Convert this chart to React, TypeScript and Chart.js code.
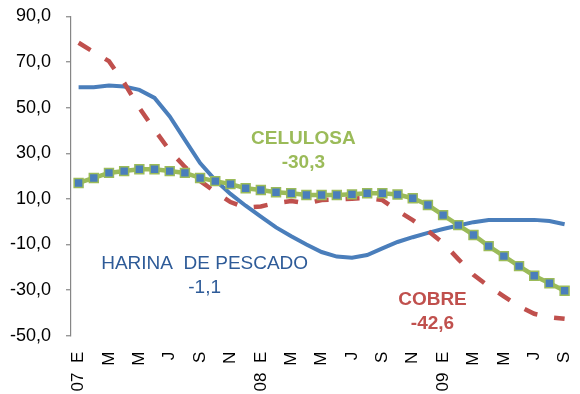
import { useEffect, useRef } from "react";
import { Chart, registerables } from "chart.js";

Chart.register(...registerables);

// Monthly categories, Jan 2007 – Sep 2009 (only every other month is labelled)
const months = [
  "07  E", "F", "M", "A", "M", "J", "J", "A", "S", "O", "N", "D",
  "08  E", "F", "M", "A", "M", "J", "J", "A", "S", "O", "N", "D",
  "09  E", "F", "M", "A", "M", "J", "J", "A", "S",
];

// Year-on-year change, %
const harinaDePescado = [
  59.0, 59.0, 59.7, 59.3, 57.8, 54.3, 46.2, 35.9, 25.7, 18.3, 12.2, 7.0,
  2.2, -2.5, -6.4, -10.0, -13.3, -15.3, -15.8, -14.6, -11.7, -8.9, -6.8, -4.9,
  -3.2, -1.7, -0.2, 0.7, 0.8, 0.8, 0.8, 0.3, -1.1,
];

const cobre = [
  78.5, 74.4, 70.4, 60.9, 49.9, 40.3, 31.2, 24.0, 17.9, 13.1, 8.6, 6.1,
  6.7, 8.2, 9.1, 8.0, 9.5, 9.8, 10.1, 10.4, 9.5, 4.8, 0.7, -4.0,
  -9.3, -16.4, -23.3, -28.3, -32.7, -37.1, -40.4, -41.9, -42.6,
];

const celulosa = [
  17.0, 19.2, 21.4, 22.2, 23.0, 23.0, 22.2, 21.4, 19.2, 17.8, 16.5, 14.7,
  13.9, 12.9, 12.5, 11.7, 11.7, 11.7, 12.0, 12.5, 12.5, 11.9, 10.3, 7.3,
  2.9, -1.5, -5.8, -10.7, -15.1, -19.5, -23.7, -27.0, -30.3,
];

const yMin = -50;
const yMax = 90;
const yStep = 20;

const BLUE = "#4A7EBB";
const RED = "#C0504D";
const GREEN = "#9BBB59";
const NOTE_BLUE = "#2E5B98";
const FONT = '"Liberation Sans", Arial, Helvetica, sans-serif';

// Series captions, anchored in data units (category index, value)
const seriesNotes = [
  { lines: ["CELULOSA", "-30,3"], at: [14.8, 36.3], color: GREEN, bold: true },
  { lines: ["HARINA  DE PESCADO", "-1,1"], at: [8.3, -18.6], color: NOTE_BLUE, bold: false },
  { lines: ["COBRE", "-42,6"], at: [23.3, -34.3], color: RED, bold: true },
];

const notesPlugin = {
  id: "seriesNotes",
  afterDatasetsDraw(chart: any) {
    const { ctx, scales } = chart;
    ctx.save();
    ctx.textAlign = "center";
    ctx.textBaseline = "middle";
    for (const note of seriesNotes) {
      const x = scales.x.getPixelForValue(note.at[0]);
      const y = scales.y.getPixelForValue(note.at[1]);
      ctx.fillStyle = note.color;
      ctx.font = `${note.bold ? "bold " : ""}19px ${FONT}`;
      note.lines.forEach((line, i) => ctx.fillText(line, x, y + i * 23.5));
    }
    ctx.restore();
  },
};

export default function App() {
  const canvasRef = useRef<HTMLCanvasElement | null>(null);

  useEffect(() => {
    const canvas = canvasRef.current;
    if (!canvas) return;
    const chart = new Chart(canvas, {
      type: "line",
      data: {
        labels: months,
        datasets: [
          {
            label: "CELULOSA",
            data: celulosa,
            borderColor: GREEN,
            borderWidth: 4.5,
            backgroundColor: BLUE,
            pointStyle: "rect",
            pointRadius: 6.3,
            pointBorderWidth: 1.5,
            pointBorderColor: GREEN,
            pointBackgroundColor: BLUE,
            tension: 0,
            order: 1,
          },
          {
            label: "COBRE",
            data: cobre,
            borderColor: RED,
            borderWidth: 4.5,
            borderDash: [14, 17],
            borderCapStyle: "butt",
            pointRadius: 0,
            tension: 0,
            order: 2,
          },
          {
            label: "HARINA DE PESCADO",
            data: harinaDePescado,
            borderColor: BLUE,
            borderWidth: 4,
            pointRadius: 0,
            tension: 0,
            order: 3,
          },
        ],
      },
      options: {
        responsive: false,
        animation: false,
        events: [],
        layout: { padding: { top: 16.5, right: 0, bottom: 0, left: 0 } },
        plugins: {
          legend: { display: false },
          tooltip: { enabled: false },
        },
        scales: {
          x: {
            offset: true,
            grid: { display: false, drawTicks: false },
            border: { display: false },
            ticks: {
              autoSkip: false,
              minRotation: 90,
              maxRotation: 90,
              padding: 16,
              color: "#000",
              font: { family: FONT, size: 17 },
              callback: (_v: any, i: number) => (i % 2 === 0 ? months[i] : ""),
            },
            afterFit: (s: any) => {
              s.height = 58.3;
              s.paddingLeft = 0;
              s.paddingRight = 0;
            },
          },
          y: {
            min: yMin,
            max: yMax,
            grid: {
              color: (c: any) => (c.tick && c.tick.value === 0 ? "#a0a0a0" : "rgba(0,0,0,0)"),
              lineWidth: 1.5,
              drawTicks: true,
              tickLength: 5,
              tickColor: "#868686",
              tickWidth: 1.2,
            },
            border: { display: true, color: "#868686", width: 1.2 },
            ticks: {
              stepSize: yStep,
              padding: 15,
              color: "#000",
              font: { family: FONT, size: 18 },
              callback: (v: any) => Number(v).toFixed(1).replace(".", ","),
            },
            afterFit: (s: any) => {
              s.width = 71;
              s.paddingTop = 0;
              s.paddingBottom = 0;
            },
          },
        },
      },
      plugins: [notesPlugin],
    });
    return () => chart.destroy();
  }, []);

  return (
    <div style={{ position: "absolute", left: 0, top: 0, width: 580, height: 394, background: "#fff" }}>
      <canvas ref={canvasRef} width={580} height={394} style={{ display: "block" }} />
    </div>
  );
}
